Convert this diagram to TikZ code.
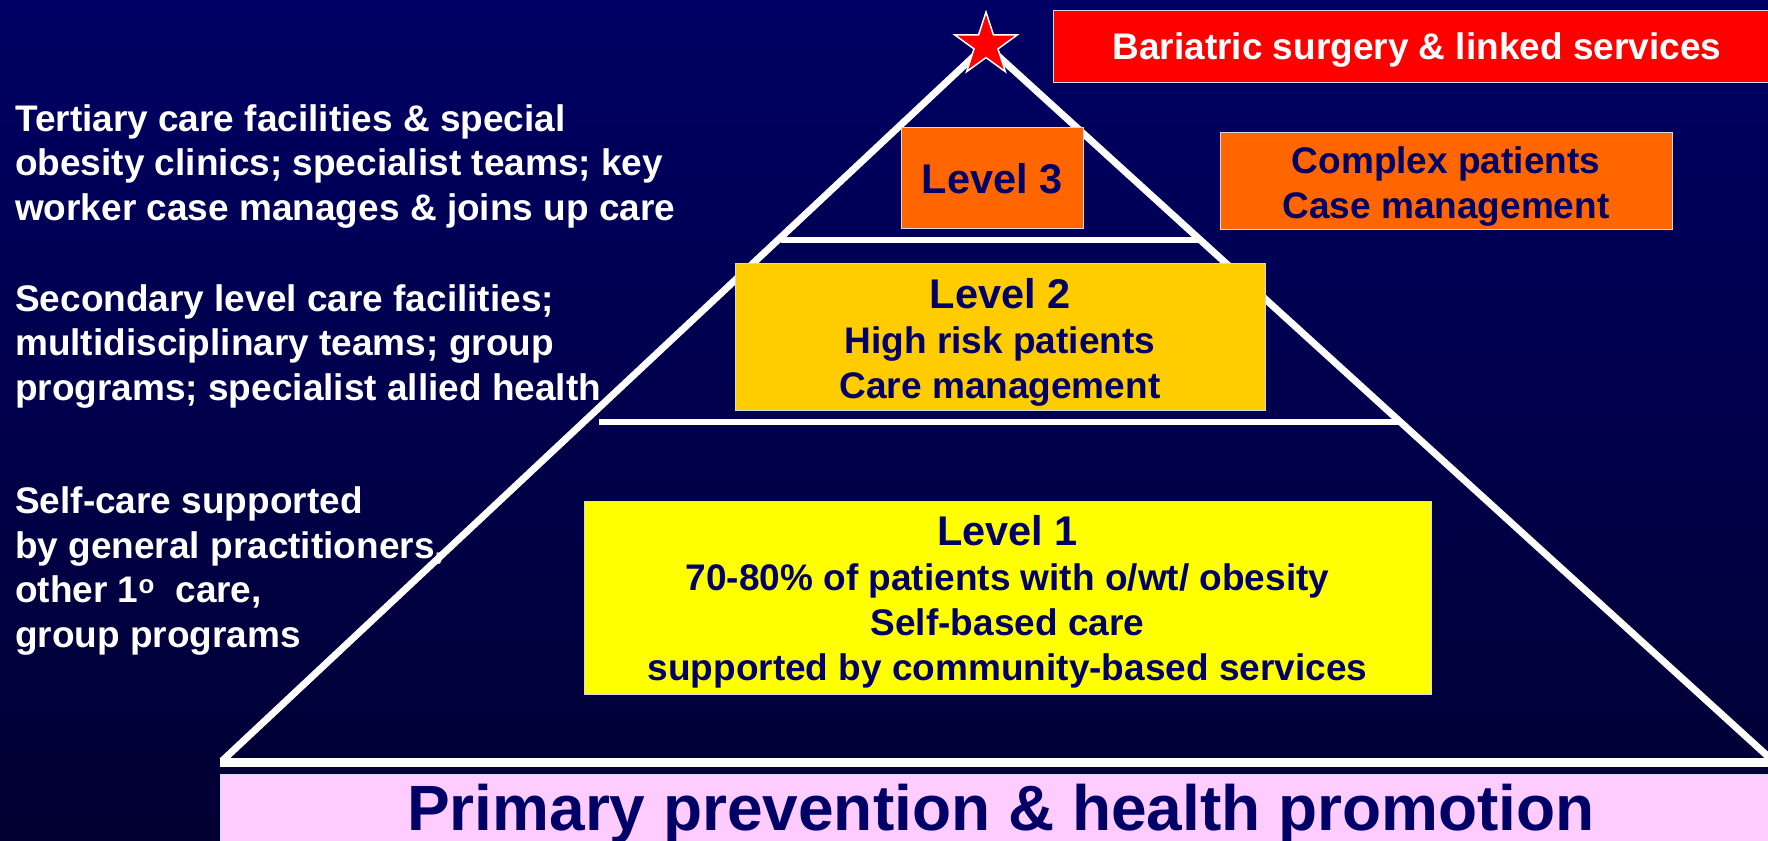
\documentclass[tikz,border=0pt]{standalone}
\usepackage{fontspec}
\setmainfont{Liberation Sans}
\usetikzlibrary{shapes.geometric,calc}

\definecolor{navytext}{RGB}{0,0,102}
\definecolor{bgtop}{RGB}{0,0,100}
\definecolor{bgbottom}{RGB}{0,0,50}
\definecolor{lvlorange}{RGB}{255,102,0}
\definecolor{lvlgold}{RGB}{255,204,0}
\definecolor{lvlyellow}{RGB}{255,255,0}
\definecolor{prevpink}{RGB}{255,204,255}
\definecolor{boxedge}{RGB}{215,215,235}

\newcommand{\levelfont}{\fontsize{41.5}{45}\selectfont}

\begin{document}
% multi-line labels are anchored at the baseline of their last line
\begin{tikzpicture}[x=1pt,y=-1pt,
  panel/.style={draw=boxedge, line width=1.2pt, inner sep=0pt, anchor=north west},
  boxtext/.style={text=navytext, font=\bfseries\fontsize{37}{45}\selectfont,
                  align=center, inner sep=0pt, anchor=base},
  sidetext/.style={text=white, font=\bfseries\fontsize{37}{44.5}\selectfont,
                   align=left, inner sep=0pt, anchor=base west},
  tierline/.style={draw=white, line width=6pt},
  pyredge/.style={draw=white, line width=7pt, line join=miter}
]
\useasboundingbox (0,0) rectangle (1768,840);
% night-blue backdrop
\shade[top color=bgtop, bottom color=bgbottom] (0,0) rectangle (1768,840);

% pyramid outline
\coordinate (apex) at (986,45);
\coordinate (bl) at (222,761);
\coordinate (br) at (1773,761);
\draw[pyredge] (bl) -- (apex) -- (br);

% tier dividers
\coordinate (t3L) at (781,240);
\coordinate (t3R) at (1201,240);
\coordinate (t2L) at (599,422);
\coordinate (t2R) at (1402,422);
\draw[tierline] (t3L) -- (t3R);
\draw[tierline] (t2L) -- (t2R);

% base of the pyramid
\coordinate (baseL) at (220,762);
\coordinate (baseR) at (1790,762);
\draw[white, line width=9pt] (baseL) -- (baseR);

% primary prevention band
\node[panel, fill=prevpink, minimum width=1575pt, minimum height=75pt] (prevention) at (220,774) {};
\node[text=navytext, font=\bfseries\fontsize{64}{70}\selectfont, inner sep=0pt, anchor=base]
  (preventiontext) at (1001,830) {Primary prevention \& health promotion};

% star at the summit
\node[star, star points=5, star point ratio=2.618, minimum size=66pt, inner sep=0pt,
      fill=red, draw=white, line width=1.5pt] (summit) at (apex) {};

% bariatric banner
\node[panel, fill=red, minimum width=740pt, minimum height=72pt] (bariatric) at (1053,10) {};
\node[text=white, font=\bfseries\fontsize{37}{45}\selectfont, inner sep=0pt, anchor=base]
  (bariatrictext) at (1417,60) {Bariatric surgery \& linked services};

% level 3
\node[panel, fill=lvlorange, minimum width=182pt, minimum height=101pt] (level3) at (901,127) {};
\node[boxtext, font=\bfseries\levelfont] (level3text) at (992,193) {Level 3};

\node[panel, fill=lvlorange, minimum width=452pt, minimum height=97pt] (complex) at (1220,132) {};
\node[boxtext] (complextext) at (1446,218) {Complex patients\\Case management};

% level 2
\node[panel, fill=lvlgold, minimum width=530pt, minimum height=147pt] (level2) at (735,263) {};
\node[boxtext] (level2text) at (1000,398)
  {{\levelfont Level 2}\\High risk patients\\Care management};

% level 1
\node[panel, fill=lvlyellow, minimum width=847pt, minimum height=193pt] (level1) at (584,501) {};
\node[boxtext] (level1text) at (1007.5,680)
  {{\levelfont Level 1}\\70-80\% of patients with o/wt/ obesity\\Self-based care\\supported by community-based services};

% descriptions on the left
\node[sidetext] (tertiary) at (15,220)
  {Tertiary care facilities \& special\\obesity clinics; specialist teams; key\\worker case manages \& joins up care};
\node[sidetext] (secondary) at (15,400)
  {Secondary level care facilities;\\multidisciplinary teams; group\\programs; specialist allied health};
\node[sidetext] (selfcare) at (15,647)
  {Self-care supported\\by general practitioners,\\other 1\textsuperscript{o}\ \ care,\\group programs};
\end{tikzpicture}
\end{document}
